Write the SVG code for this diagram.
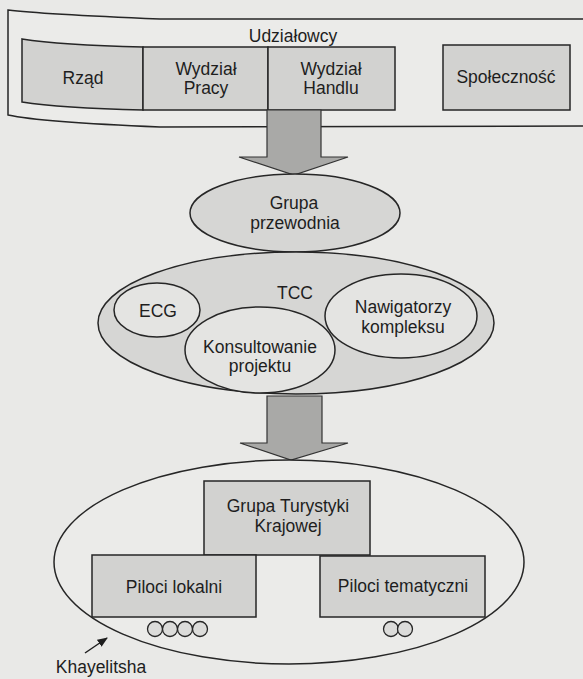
<svg xmlns="http://www.w3.org/2000/svg" width="583" height="679" viewBox="0 0 583 679">
  <defs>
    <style>
      .bg { fill: #e9e9e7; }
      .box { fill: #d2d2d0; stroke: #262626; stroke-width: 1.5; }
      .shade { fill: #d6d6d4; stroke: #262626; stroke-width: 1.5; }
      .light { fill: #e4e4e2; stroke: #262626; stroke-width: 1.5; }
      .frame { fill: #ebebe9; stroke: #262626; stroke-width: 1.5; }
      .flow { fill: #a9a9a7; stroke: #333; stroke-width: 1.2; }
      .dot { fill: #dcdcda; stroke: #262626; stroke-width: 1.3; }
      text { font-family: "Liberation Sans", Arial, sans-serif; font-size: 17.5px; fill: #1e1e1e; text-anchor: middle; }
    </style>
    <marker id="tip" viewBox="0 0 10 10" refX="9" refY="5" markerWidth="7" markerHeight="7" orient="auto">
      <path d="M0,1 L10,5 L0,9 Z" fill="#1e1e1e"/>
    </marker>
  </defs>

  <rect class="bg" x="0" y="0" width="583" height="679"/>

  <!-- stakeholders frame, open on the right edge -->
  <g id="udzialowcy">
    <path class="frame" d="M583,19 L160,19 Q40,14 8,10 L8,115 Q40,122 160,127 L583,126"/>
    <text x="293" y="42">Udziałowcy</text>
  </g>
  <g id="rzad">
    <path class="box" d="M22,39 Q60,45 143,47 L143,110 Q60,108 22,102 Z"/>
    <text x="83" y="84">Rząd</text>
  </g>
  <g id="wydzial-pracy">
    <rect class="box" x="143" y="47" width="125" height="63"/>
    <text x="206" y="75">Wydział</text>
    <text x="206" y="94">Pracy</text>
  </g>
  <g id="wydzial-handlu">
    <rect class="box" x="268" y="47" width="127" height="63"/>
    <text x="331" y="75">Wydział</text>
    <text x="331" y="94">Handlu</text>
  </g>
  <g id="spolecznosc">
    <rect class="box" x="443" y="45" width="127" height="65"/>
    <text x="506" y="83">Społeczność</text>
  </g>

  <!-- flow arrows and the Khayelitsha pointer -->
  <g id="connectors">
    <path class="flow" d="M267,110 L321,110 L321,157 L348,157 L294,175 L239,157 L267,157 Z"/>
    <path class="flow" d="M267,396 L322,396 L322,443 L348,443 L291,460 L240,443 L267,443 Z"/>
    <path d="M85,653 L107,638" stroke="#1e1e1e" stroke-width="1.5" fill="none" marker-end="url(#tip)"/>
  </g>

  <g id="grupa-przewodnia">
    <ellipse class="shade" cx="295" cy="213" rx="105" ry="39"/>
    <text x="294" y="209">Grupa</text>
    <text x="295" y="229">przewodnia</text>
  </g>

  <g id="tcc">
    <ellipse class="shade" cx="296" cy="323" rx="198" ry="71"/>
    <text x="295" y="299">TCC</text>
  </g>
  <g id="ecg">
    <ellipse class="light" cx="157" cy="310" rx="43" ry="27"/>
    <text x="158" y="317">ECG</text>
  </g>
  <g id="konsultowanie">
    <ellipse class="light" cx="260" cy="350" rx="75" ry="43"/>
    <text x="260" y="353">Konsultowanie</text>
    <text x="260" y="372">projektu</text>
  </g>
  <g id="nawigatorzy">
    <ellipse class="light" cx="401" cy="316" rx="76" ry="42"/>
    <text x="403" y="313">Nawigatorzy</text>
    <text x="403" y="333">kompleksu</text>
  </g>

  <g id="khayelitsha">
    <ellipse class="frame" cx="289" cy="562" rx="235" ry="102"/>
    <text x="101" y="673">Khayelitsha</text>
  </g>
  <g id="grupa-turystyki">
    <rect class="box" x="204" y="481" width="166" height="74"/>
    <text x="288" y="512">Grupa Turystyki</text>
    <text x="288" y="532">Krajowej</text>
  </g>
  <g id="piloci-lokalni">
    <rect class="box" x="92" y="555" width="164" height="62"/>
    <text x="174" y="593">Piloci lokalni</text>
    <circle class="dot" cx="155" cy="629" r="7.5"/>
    <circle class="dot" cx="170" cy="629" r="7.5"/>
    <circle class="dot" cx="185" cy="629" r="7.5"/>
    <circle class="dot" cx="200" cy="629" r="7.5"/>
  </g>
  <g id="piloci-tematyczni">
    <rect class="box" x="320" y="556" width="165" height="61"/>
    <text x="403" y="592">Piloci tematyczni</text>
    <circle class="dot" cx="391" cy="629" r="7.5"/>
    <circle class="dot" cx="405" cy="629" r="7.5"/>
  </g>
</svg>
